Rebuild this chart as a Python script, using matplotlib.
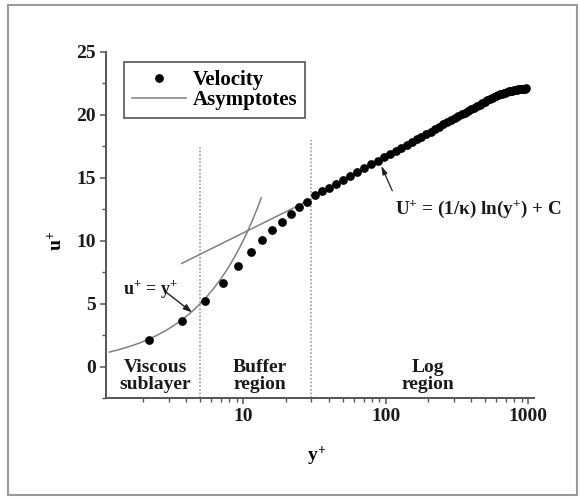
import matplotlib
matplotlib.use("Agg")
import matplotlib.pyplot as plt
import numpy as np
from matplotlib.patches import Rectangle

# --- Data ---
YPLUS = [2.18, 3.70, 5.4, 7.25, 9.25, 11.3, 13.6, 16.05, 18.75, 21.6, 24.7, 28.1,
         31.8, 36.0, 40.1, 45.0, 50.5, 56.5, 63.0, 70.5, 78.8, 87.8, 98.0,
         107.8, 118.0, 128.6, 140.2, 152.1, 165.0, 178.2, 192.5, 206.9, 222.4,
         238.0, 254.7, 271.2, 288.8, 306.1, 324.5, 342.3, 361.2, 379.2, 398.2,
         418.1, 436.9, 456.6, 477.1, 496.2, 516.1, 536.7, 555.5, 574.9, 595.1,
         615.9, 634.4, 653.4, 673.0, 693.2, 714.0, 734.0, 754.5, 774.1, 794.3,
         813.3, 832.8, 851.2, 869.9, 887.3, 905.0, 921.3, 936.0, 949.1, 960.5]
UPLUS = [2.1, 3.6, 5.2, 6.64, 7.96, 9.12, 10.03, 10.83, 11.5, 12.1, 12.65, 13.1,
         13.6, 13.94, 14.23, 14.54, 14.85, 15.16, 15.45, 15.76, 16.06, 16.35, 16.65,
         16.91, 17.15, 17.39, 17.62, 17.84, 18.06, 18.27, 18.48, 18.68, 18.87,
         19.05, 19.24, 19.41, 19.58, 19.74, 19.89, 20.04, 20.19, 20.32, 20.45,
         20.58, 20.70, 20.82, 20.94, 21.05, 21.15, 21.26, 21.35, 21.44, 21.52,
         21.58, 21.63, 21.68, 21.73, 21.78, 21.82, 21.86, 21.90, 21.93, 21.96,
         21.98, 22.00, 22.02, 22.04, 22.05, 22.06, 22.07, 22.08, 22.09, 22.1]

KAPPA = 0.41
C_LOG = 5.0
LINEAR_RANGE = (1.15, 13.4)     # u+ = y+
LOG_RANGE = (3.7, 28.0)         # u+ = (1/k) ln(y+) + C
REGION_BOUNDS = [5, 30]
REGION_TOPS = [17.5, 18.0]
REGION_LABELS = ["Viscous\nsublayer", "Buffer\nregion", "Log\nregion"]
REGION_X = [2.42, 13.15, 197]

XTICKS = [10, 100, 1000]
YTICKS = [0, 5, 10, 15, 20, 25]

plt.rcParams['font.family'] = ['Liberation Serif', 'DejaVu Serif']
plt.rcParams['font.weight'] = 'bold'
plt.rcParams['mathtext.fontset'] = 'custom'
plt.rcParams['mathtext.rm'] = 'Liberation Serif:bold'
plt.rcParams['mathtext.it'] = 'Liberation Serif:bold'
plt.rcParams['mathtext.bf'] = 'Liberation Serif:bold'

fig = plt.figure(figsize=(5.8, 4.98), dpi=100)
ax = fig.add_axes([0.1836, 0.2008, 0.9207 - 0.1836, 0.8956 - 0.2008])

# outer frame of the picture
fig.patches.append(Rectangle((0.014, 0.006), 0.981, 0.984, transform=fig.transFigure,
                             fill=False, edgecolor='#9a9a9a', linewidth=1.5))

LINE_COL = '#808080'

# region boundaries
for xb, top in zip(REGION_BOUNDS, REGION_TOPS):
    ax.plot([xb, xb], [-2.5, top], linestyle=(0, (1.2, 1.2)), color='#999999', linewidth=1.1)

# asymptotes
y_lin = np.geomspace(*LINEAR_RANGE, 80)
asym, = ax.plot(y_lin, y_lin, color=LINE_COL, linewidth=1.1)
y_log = np.geomspace(*LOG_RANGE, 40)
ax.plot(y_log, np.log(y_log) / KAPPA + C_LOG, color=LINE_COL, linewidth=1.1)

# velocity profile
vel, = ax.plot(YPLUS, UPLUS, 'o', color='black', markersize=6.3, markeredgewidth=0)

ax.set_xscale('log')
ax.set_xlim(1.1, 1100)
ax.set_ylim(-2.5, 25)
ax.set_xticks(XTICKS)
ax.set_xticklabels([str(t) for t in XTICKS])
ax.set_yticks(YTICKS)
ax.set_yticks(np.arange(-2.5, 25, 2.5), minor=True)

for s in ['top', 'right']:
    ax.spines[s].set_visible(False)
for s in ['left', 'bottom']:
    ax.spines[s].set_color('#555555')
    ax.spines[s].set_linewidth(1.4)

ax.tick_params(which='major', direction='out', length=4.5, width=1.1, color='#555555',
               labelsize=14, labelcolor='#1a1a1a', pad=3)
ax.tick_params(which='minor', direction='out', length=2.8, width=1.0, color='#555555')
ax.tick_params(axis='x', which='minor', labelbottom=False)

ax.set_ylabel(r'$u^{+}$', fontsize=14, va='center')
ax.yaxis.set_label_coords(-0.116, 0.455)
ax.set_xlabel(r'$y^{+}$', fontsize=14, va='center')
ax.xaxis.set_label_coords(0.492, -0.168)

# region names
for x, lbl in zip(REGION_X, REGION_LABELS):
    ax.text(x, -0.75, lbl, ha='center', va='center', fontsize=14, linespacing=1.05,
            color='#1a1a1a')

# annotations
ax.text(1.43, 6.19, r'u$^{+}$ = y$^{+}$', ha='left', va='center', fontsize=13, color='#1a1a1a')
ax.annotate('', xy=(4.38, 4.31), xytext=(2.89, 5.9),
            arrowprops=dict(arrowstyle='-|>,head_length=0.5,head_width=0.18',
                            color='#222222', lw=1.0, shrinkA=0, shrinkB=0))
ax.text(115.6, 12.46, r'U$^{+}$ = (1/κ) ln(y$^{+}$) + C', ha='left', va='center',
        fontsize=13.8, color='#1a1a1a')
ax.annotate('', xy=(93.3, 15.95), xytext=(111.4, 13.97),
            arrowprops=dict(arrowstyle='-|>,head_length=0.5,head_width=0.15',
                            color='#222222', lw=0.9, shrinkA=0, shrinkB=0))

leg = ax.legend([vel, asym], ['Velocity', 'Asymptotes'], loc='upper left',
                bbox_to_anchor=(0.041, 0.971), borderaxespad=0, fontsize=15,
                fancybox=False, framealpha=1, edgecolor='#555555',
                handlelength=2.6, handletextpad=0.3, labelspacing=0.02, borderpad=0.38)
leg.get_frame().set_linewidth(1.2)

fig.savefig('out.png', dpi=100)
